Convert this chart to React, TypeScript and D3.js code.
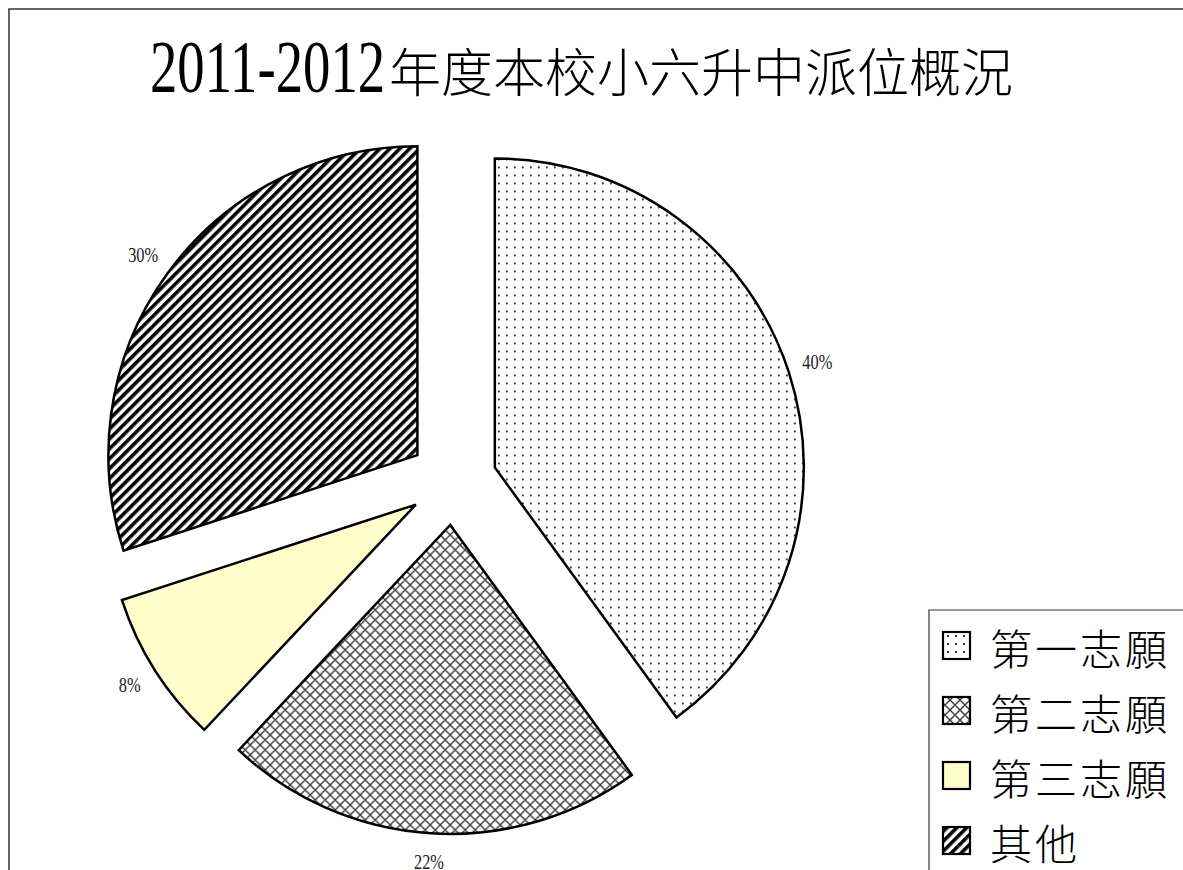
import React from "react";
import * as d3 from "d3";

const categories = ["第一志願", "第二志願", "第三志願", "其他"];
const values = [40, 22, 8, 30];
const percentLabels = ["40%", "22%", "8%", "30%"];
const fills = ["url(#pDots)", "url(#pCross)", "#FFFFCC", "url(#pStripe)"];
const titleDigits = "2011-2012";
const titleText = "年度本校小六升中派位概況";

const W = 1183;
const H = 870;
const cx = 453;
const cy = 481;
const R = 309;
const explode = 44;
const labelR = 383;

export default function App() {
  const pie = d3
    .pie<number>()
    .sort(null)
    .value((d) => d)
    .startAngle(0)
    .endAngle(2 * Math.PI);
  const arcs = pie(values);
  const arcGen = d3.arc<d3.PieArcDatum<number>>().innerRadius(0).outerRadius(R);

  return (
    <svg
      width={W}
      height={H}
      style={{ position: "absolute", left: 0, top: 0, background: "#fff" }}
    >
      <defs>
        <pattern id="pDots" width={8} height={8} patternUnits="userSpaceOnUse">
          <rect width={8} height={8} fill="#fff" />
          <rect x={3} y={3} width={2} height={2} fill="#444" />
        </pattern>
        <pattern id="pCross" width={10} height={10} patternUnits="userSpaceOnUse">
          <rect width={10} height={10} fill="#fff" />
          <path
            d="M0,0L10,10M0,10L10,0M-5,5L5,15M5,-5L15,5M-5,5L5,-5M5,15L15,5"
            stroke="#3a3a3a"
            strokeWidth={1.4}
          />
        </pattern>
        <pattern
          id="pStripe"
          width={7}
          height={7}
          patternUnits="userSpaceOnUse"
          patternTransform="rotate(45)"
        >
          <rect width={7} height={7} fill="#fff" />
          <rect width={3.6} height={7} fill="#000" />
        </pattern>
      </defs>

      {/* frame */}
      <path d={`M9,${H}L9,9L${W},9`} fill="none" stroke="#333" strokeWidth={1.5} />

      {/* title */}
      <text
        transform="translate(150,92) scale(0.74,1)"
        fontFamily="'Liberation Serif', serif"
        fontSize={74}
        fill="#000"
      >
        {titleDigits}
      </text>
      <text
        x={389}
        y={92}
        fontFamily="'Noto Sans CJK TC', 'Noto Sans CJK SC', sans-serif"
        fontSize={52}
        fontWeight={300}
        fill="#000"
      >
        {titleText}
      </text>

      {/* slices */}
      {arcs.map((a, i) => {
        const mid = (a.startAngle + a.endAngle) / 2;
        const dx = Math.sin(mid) * explode;
        const dy = -Math.cos(mid) * explode;
        return (
          <path
            key={categories[i]}
            d={arcGen(a) || ""}
            transform={`translate(${cx + dx},${cy + dy})`}
            fill={fills[i]}
            stroke="#000"
            strokeWidth={2.5}
            strokeLinejoin="miter"
          />
        );
      })}

      {/* percent labels */}
      {arcs.map((a, i) => {
        const mid = (a.startAngle + a.endAngle) / 2;
        const lx = cx + Math.sin(mid) * labelR;
        const ly = cy - Math.cos(mid) * labelR;
        return (
          <text
            key={"l" + i}
            transform={`translate(${lx},${ly + 6}) scale(0.78,1)`}
            textAnchor="middle"
            fontFamily="'Liberation Serif', serif"
            fontSize={21}
            fill="#222"
          >
            {percentLabels[i]}
          </text>
        );
      })}

      {/* legend */}
      <path d={`M929,${H}L929,610L${W},610`} fill="none" stroke="#333" strokeWidth={1.2} />
      {categories.map((c, i) => {
        const y0 = 632 + i * 65;
        return (
          <g key={"lg" + c}>
            <rect
              x={943}
              y={y0}
              width={27}
              height={27}
              fill={fills[i]}
              stroke="#000"
              strokeWidth={2.2}
            />
            <text
              x={990}
              y={y0 + 33}
              fontFamily="'Noto Sans CJK TC', 'Noto Sans CJK SC', sans-serif"
              fontSize={42}
              fontWeight={300}
              letterSpacing={3}
              fill="#000"
            >
              {c}
            </text>
          </g>
        );
      })}
    </svg>
  );
}
